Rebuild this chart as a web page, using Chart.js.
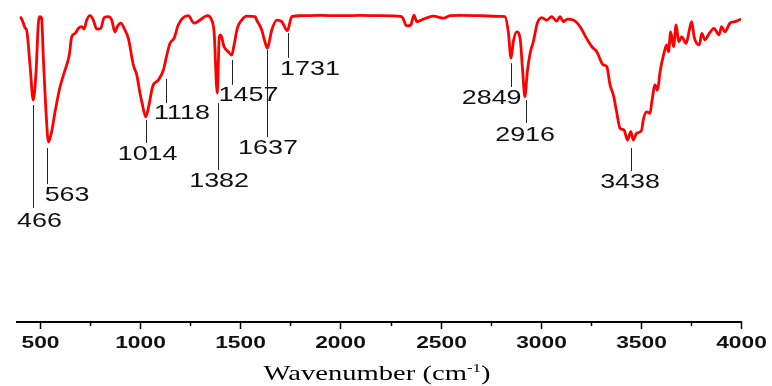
<!DOCTYPE html>
<html>
<head>
<meta charset="utf-8">
<script src="https://cdn.jsdelivr.net/npm/chart.js@4/dist/chart.umd.min.js"></script>
<style>
  html, body { margin: 0; padding: 0; background: #fff; }
  #wrap { width: 772px; height: 386px; }
</style>
</head>
<body>
<div id="wrap"><canvas id="ftirChart" width="772" height="386"></canvas></div>
<script>
// spectrum: wavenumber (cm-1) and transmittance (a.u.)
const wavenumbers = [
  405, 417, 425, 433, 450, 466, 480, 491, 500, 508, 516, 530, 542, 558, 575, 600, 625, 646, 658, 675,
  691, 708, 720, 733, 750, 766, 783, 803, 820, 841, 858, 874, 886, 903, 924, 941, 966, 983, 1000, 1008,
  1028, 1044, 1062, 1091, 1116, 1133, 1149, 1169, 1190, 1212, 1240, 1269, 1299, 1335, 1357, 1369, 1385, 1395, 1402, 1419,
  1440, 1457, 1469, 1485, 1507, 1532, 1574, 1582, 1607, 1623, 1635, 1657, 1682, 1707, 1735, 1757, 1800, 1900, 2000, 2100,
  2200, 2306, 2331, 2351, 2367, 2381, 2414, 2464, 2514, 2547, 2600, 2700, 2800, 2822, 2838, 2852, 2863, 2880, 2897, 2910,
  2921, 2933, 2947, 2963, 2983, 3005, 3030, 3055, 3080, 3096, 3113, 3133, 3163, 3196, 3229, 3255, 3280, 3305, 3313, 3330,
  3346, 3363, 3379, 3396, 3416, 3433, 3450, 3462, 3479, 3504, 3512, 3529, 3546, 3555, 3571, 3583, 3596, 3613, 3629, 3638,
  3649, 3663, 3676, 3689, 3704, 3726, 3742, 3754, 3766, 3792, 3804, 3820, 3837, 3865, 3890, 3903, 3919, 3945, 3970, 3996
];
const transmittance = [
  98.2, 96.4, 94.9, 94.2, 82.9, 71.6, 80.6, 95.8, 98.5, 98.0, 86.1, 67.7, 58.1, 61.4, 67.8, 75.9, 81.3, 86.1, 92.0, 93.1,
  94.7, 95.3, 94.5, 97.4, 98.8, 97.4, 94.5, 94.7, 98.2, 98.5, 97.4, 93.6, 95.3, 96.4, 94.2, 91.5, 82.9, 79.7, 73.5, 71.1,
  66.2, 70.0, 75.9, 78.1, 81.3, 86.1, 89.9, 91.5, 95.8, 98.0, 98.8, 96.4, 97.4, 98.8, 97.4, 93.6, 73.8, 92.0, 92.6, 88.8,
  87.2, 86.1, 89.4, 94.7, 97.4, 98.7, 98.5, 97.4, 94.2, 90.4, 88.3, 94.2, 97.4, 96.9, 94.0, 98.5, 98.8, 98.9, 98.8, 98.9,
  98.8, 98.5, 95.5, 95.8, 99.0, 96.9, 97.7, 98.7, 98.0, 98.8, 98.9, 98.8, 98.6, 98.5, 93.6, 85.1, 90.4, 93.6, 91.5, 80.7,
  72.7, 80.7, 86.7, 90.4, 96.4, 98.2, 97.4, 98.5, 97.1, 98.5, 96.9, 97.7, 97.4, 95.3, 91.5, 88.8, 87.2, 83.5, 82.9, 82.4,
  76.5, 73.2, 67.8, 62.5, 61.9, 58.7, 61.4, 58.7, 60.9, 61.9, 65.2, 67.8, 67.3, 71.1, 76.5, 74.8, 80.7, 86.1, 89.4, 87.2,
  93.6, 88.8, 95.8, 90.4, 92.0, 89.9, 94.2, 96.9, 92.0, 89.4, 93.1, 91.0, 92.6, 94.7, 92.6, 95.3, 93.6, 96.4, 96.9, 97.6
];

// peak labels and where their leader lines sit on the wavenumber axis
const peakLabels = ["466", "563", "1014", "1118", "1382", "1457", "1637", "1731", "2849", "2916", "3438"];
const peakPositions = [466, 536, 1028, 1128, 1387, 1457, 1635, 1737, 2850, 2925, 3449];

// axis tick labels
const majorTicks = [500, 1000, 1500, 2000, 2500, 3000, 3500, 4000];
const minorTicks = [750, 1250, 1750, 2250, 2750, 3250, 3750];

// leader line span and label anchor (in chart units)
const peakLayout = [
  { top: 70.0, bottom: 36.8, lx: 497, ly: 32.6 },
  { top: 56.1, bottom: 44.5, lx: 635, ly: 41.0 },
  { top: 65.2, bottom: 57.7, lx: 1037, ly: 54.2 },
  { top: 78.4, bottom: 70.6, lx: 1209, ly: 67.4 },
  { top: 70.6, bottom: 49.0, lx: 1394, ly: 45.5 },
  { top: 84.5, bottom: 76.5, lx: 1541, ly: 73.2 },
  { top: 87.7, bottom: 59.7, lx: 1638, ly: 56.1 },
  { top: 93.2, bottom: 85.2, lx: 1848, ly: 81.7 },
  { top: 83.5, bottom: 75.8, lx: 2755, ly: 72.2 },
  { top: 71.6, bottom: 64.2, lx: 2922, ly: 60.2 },
  { top: 56.1, bottom: 48.7, lx: 3446, ly: 45.0 }
];

function stretchText(ctx, txt, cx, cy, font, sx) {
  ctx.save();
  ctx.translate(cx, cy);
  ctx.scale(sx, 1);
  ctx.font = font;
  ctx.textAlign = "center";
  ctx.textBaseline = "middle";
  ctx.fillText(txt, 0, 0);
  ctx.restore();
}

const decorPlugin = {
  id: "decor",
  afterDatasetsDraw(chart) {
    const { ctx, scales: { x, y }, chartArea } = chart;
    const axisY = chartArea.bottom;
    ctx.save();
    ctx.strokeStyle = "#000";
    ctx.fillStyle = "#111";
    ctx.lineWidth = 1.5;

    // tick marks
    majorTicks.forEach(v => {
      const px = Math.round(x.getPixelForValue(v)) + 0.5;
      ctx.beginPath(); ctx.moveTo(px, axisY); ctx.lineTo(px, axisY + 7); ctx.stroke();
      stretchText(ctx, String(v), px, axisY + 21, "bold 16.5px 'Liberation Sans', Arial, sans-serif", 1.38);
    });
    minorTicks.forEach(v => {
      const px = Math.round(x.getPixelForValue(v)) + 0.5;
      ctx.beginPath(); ctx.moveTo(px, axisY); ctx.lineTo(px, axisY + 4); ctx.stroke();
    });

    // peak leader lines and labels
    ctx.lineWidth = 1;
    ctx.strokeStyle = "#222";
    peakLabels.forEach((lab, i) => {
      const L = peakLayout[i];
      const px = Math.round(x.getPixelForValue(peakPositions[i])) + 0.5;
      ctx.beginPath();
      ctx.moveTo(px, y.getPixelForValue(L.top));
      ctx.lineTo(px, y.getPixelForValue(L.bottom));
      ctx.stroke();
      stretchText(ctx, lab, x.getPixelForValue(L.lx), y.getPixelForValue(L.ly),
        "21px 'Liberation Sans', Arial, sans-serif", 1.28);
    });

    // axis title with superscript
    const sx = 1.3;
    const mainFont = "22px 'Liberation Serif', 'Times New Roman', serif";
    const supFont = "13px 'Liberation Serif', 'Times New Roman', serif";
    ctx.font = mainFont;
    const w1 = ctx.measureText("Wavenumber (cm").width;
    const w3 = ctx.measureText(")").width;
    ctx.font = supFont;
    const w2 = ctx.measureText("-1").width;
    const total = (w1 + w2 + w3) * sx;
    const cx = (chartArea.left + chartArea.right) / 2 - 2;
    ctx.save();
    ctx.translate(cx - total / 2, 380);
    ctx.scale(sx, 1);
    ctx.textAlign = "left";
    ctx.textBaseline = "alphabetic";
    ctx.fillStyle = "#000";
    ctx.font = mainFont;
    ctx.fillText("Wavenumber (cm", 0, 0);
    ctx.font = supFont;
    ctx.fillText("-1", w1, -8);
    ctx.font = mainFont;
    ctx.fillText(")", w1 + w2, 0);
    ctx.restore();

    ctx.restore();
  }
};

const points = wavenumbers.map((w, i) => ({ x: w, y: transmittance[i] }));

new Chart(document.getElementById("ftirChart"), {
  type: "line",
  data: {
    datasets: [{
      data: points,
      borderColor: "#ff0000",
      borderWidth: 2.8,
      borderJoinStyle: "round",
      borderCapStyle: "round",
      pointRadius: 0,
      cubicInterpolationMode: "monotone",
      fill: false
    }]
  },
  options: {
    responsive: false,
    animation: false,
    devicePixelRatio: 1,
    layout: { padding: { left: 17, right: 31, top: 12, bottom: 64 } },
    plugins: { legend: { display: false }, tooltip: { enabled: false } },
    scales: {
      x: {
        type: "linear",
        min: 385,
        max: 4000,
        ticks: { display: false },
        grid: { display: false, drawTicks: false },
        border: { display: true, color: "#000", width: 2 }
      },
      y: {
        display: false,
        min: 0,
        max: 100
      }
    }
  },
  plugins: [decorPlugin]
});
</script>
</body>
</html>
